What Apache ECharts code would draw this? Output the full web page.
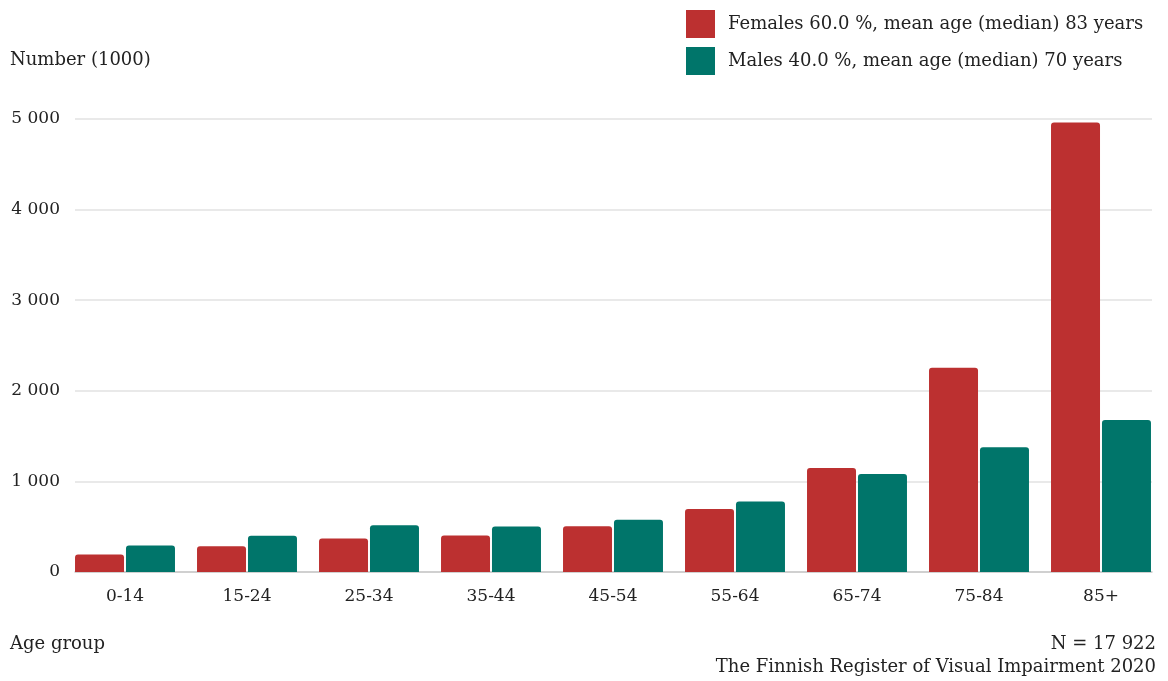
<!DOCTYPE html>
<html>
<head>
<meta charset="utf-8">
<script src="https://cdn.jsdelivr.net/npm/echarts@6/dist/echarts.min.js"></script>
<style>
html, body { margin: 0; padding: 0; background: #fff; }
#main { width: 1168px; height: 681px; }
</style>
</head>
<body>
<div id="main"></div>
<script>
var categories = ['0-14', '15-24', '25-34', '35-44', '45-54', '55-64', '65-74', '75-84', '85+'];
var females = [193, 285, 370, 403, 506, 694, 1147, 2255, 4962];
var males = [293, 399, 517, 503, 576, 779, 1081, 1376, 1677];
var femaleName = 'Females 60.0 %, mean age (median) 83 years';
var maleName = 'Males 40.0 %, mean age (median) 70 years';
var yMin = 0, yMax = 5000, yStep = 1000;

var font = 'DejaVu Serif';
var textColor = '#222';
var bigFont = '18px "DejaVu Serif"';

function thousands(v) {
	return String(v).replace(/\B(?=(\d{3})+(?!\d))/g, ' ');
}

var myChart = echarts.init(document.getElementById('main'));
var option = {
	animation: false,
	textStyle: { fontFamily: font },
	legend: {
		orient: 'vertical',
		left: 686,
		top: 10,
		padding: 0,
		itemWidth: 29,
		itemHeight: 28,
		itemGap: 9,
		icon: 'rect',
		itemStyle: { borderRadius: 2 },
		textStyle: { color: textColor, fontSize: 18, fontFamily: font, padding: [2, 0, 0, 8] },
		data: [femaleName, maleName]
	},
	graphic: [
		{ type: 'text', left: 10, top: 51, style: { text: 'Number (1000)', fill: textColor, font: bigFont } },
		{ type: 'text', left: 10, top: 635, style: { text: 'Age group', fill: textColor, font: bigFont } },
		{ type: 'text', right: 12, top: 635, style: { text: 'N = 17 922', fill: textColor, font: bigFont, align: 'right' } },
		{ type: 'text', right: 12, top: 658, style: { text: 'The Finnish Register of Visual Impairment 2020', fill: textColor, font: bigFont, align: 'right' } }
	],
	grid: [
		// grid lines, y labels, base line
		{ left: 75, right: 16, top: 119, bottom: 109 },
		// bars and category labels
		{ left: 64, right: 6, top: 119, bottom: 109 }
	],
	xAxis: [{
		gridIndex: 0,
		type: 'category',
		data: categories,
		axisLine: { show: true, lineStyle: { color: '#c8c8c8', width: 1.5 } },
		axisTick: { show: false },
		axisLabel: { show: false }
	}, {
		gridIndex: 1,
		type: 'category',
		data: categories,
		axisLine: { show: false },
		axisTick: { show: false },
		axisLabel: { color: textColor, fontSize: 17, fontFamily: font, margin: 16 }
	}],
	yAxis: [{
		gridIndex: 0,
		type: 'value',
		min: yMin,
		max: yMax,
		interval: yStep,
		axisLine: { show: false },
		axisTick: { show: false },
		axisLabel: { color: textColor, fontSize: 17, fontFamily: font, margin: 15, formatter: thousands },
		splitLine: { show: true, lineStyle: { color: '#e2e2e2', width: 1.5 } }
	}, {
		gridIndex: 1,
		type: 'value',
		min: yMin,
		max: yMax,
		interval: yStep,
		show: false
	}],
	series: [{
		name: femaleName,
		type: 'bar',
		xAxisIndex: 1,
		yAxisIndex: 1,
		barWidth: 49,
		barGap: '4%',
		itemStyle: { color: '#bc3030', borderRadius: [3, 3, 0, 0] },
		data: females
	}, {
		name: maleName,
		type: 'bar',
		xAxisIndex: 1,
		yAxisIndex: 1,
		barWidth: 49,
		barGap: '4%',
		itemStyle: { color: '#00756a', borderRadius: [3, 3, 0, 0] },
		data: males
	}]
};

myChart.setOption(option);
</script>
</body>
</html>
